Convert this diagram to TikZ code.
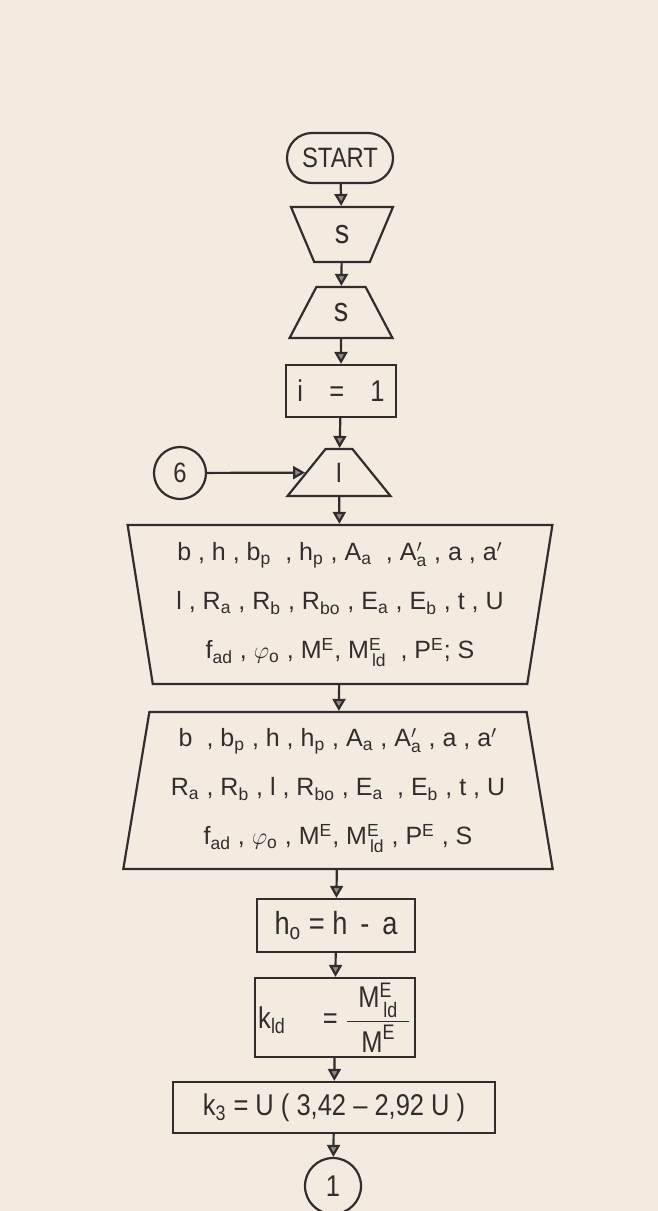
\documentclass[tikz,border=0pt]{standalone}
\usepackage{amsmath}
\usepackage{fontspec}
\setmainfont{Liberation Sans}[FakeStretch=0.85]
\newfontfamily\rowfont{Liberation Sans}
\usetikzlibrary{shapes.geometric, arrows.meta, positioning, calc}
\definecolor{paper}{RGB}{243,235,224}
\definecolor{ink}{RGB}{50,45,44}
\newcommand{\lo}[1]{$_{\text{#1}}$}
\newcommand{\hi}[1]{$^{\text{#1}}$}

\begin{document}
\begin{tikzpicture}[x=0.5pt, y=-0.5pt, color=ink,
    flow/.style={line width=1.1pt, -{Triangle[width=6.5pt, length=6pt, fill=ink!55]}},
    box/.style={draw, line width=1.1pt, rectangle, inner sep=0pt, font=\fontsize{14}{16}\selectfont},
    manual/.style={draw, line width=1.1pt, trapezium, trapezium stretches=true, inner sep=0pt, font=\fontsize{14}{16}\selectfont},
    conn/.style={draw, line width=1.1pt, circle, inner sep=0pt, font=\fontsize{14}{16}\selectfont},
    rows/.style={align=center, font=\rowfont\fontsize{12.5}{24.5}\selectfont}]
    % Paper
    \fill[paper] (0,0) rectangle (658,1211);
    \useasboundingbox (0,0) rectangle (658,1211);

    % Start and reading
    \node[box, rounded corners=12.5pt, minimum width=53pt, minimum height=25pt] (start) at (340,158) {START};
    \node[manual, shape border rotate=180, trapezium angle=72, minimum height=27.5pt, minimum width=51pt, font=\fontsize{17}{18}\selectfont] (s1) at (342,234.5) {s};
    \node[manual, trapezium angle=67, minimum height=25.5pt, minimum width=51.5pt, font=\fontsize{17}{18}\selectfont] (s2) at (341,312.5) {s};
    \node[box, minimum width=55pt, minimum height=26pt, font=\fontsize{15}{16}\selectfont] (init) at (341,391) {i \ \, = \ \, 1};
    \node[manual, trapezium angle=64, minimum height=23.5pt, minimum width=51.5pt] (readI) at (339,472.5) {I};
    \node[conn, minimum size=26pt] (c6) at (180,473) {6};

    % Data
    \node[manual, rows, shape border rotate=180, trapezium angle=80, minimum height=79.5pt, minimum width=213pt] (data1) at (340,604.5)
        {b , h , b\lo{p} \ , h\lo{p} , A\lo{a} \ , A$'_{\text{a}}$ , a , a$'$\\
         l , R\lo{a} , R\lo{b} , R\lo{bo} , E\lo{a} , E\lo{b} , t , U\\
         f\lo{ad} , $\varphi_{\text{o}}$ , M\hi{E}, M$^{\text{E}}_{\,\text{ld}}$ \ , P\hi{E}; S};
    \node[manual, rows, trapezium angle=79.5, minimum height=78.5pt, minimum width=215pt] (data2) at (338,790.5)
        {b \ , b\lo{p} , h , h\lo{p} , A\lo{a} , A$'_{\text{a}}$ , a , a$'$\\
         R\lo{a} , R\lo{b} , l , R\lo{bo} , E\lo{a} \ , E\lo{b} , t , U\\
         f\lo{ad} , $\varphi_{\text{o}}$ , M\hi{E}, M$^{\text{E}}_{\,\text{ld}}$ , P\hi{E} , S};

    % Computations
    \node[box, minimum width=79pt, minimum height=26.5pt, font=\fontsize{16}{18}\selectfont] (hzero) at (336,925.5) {h\lo{o} = h \,- \,a};
    \node[box, minimum width=80pt, minimum height=39.5pt, font=\fontsize{15}{18}\selectfont] (kld) at (335,1017.5)
        {k\lo{ld} \quad = $\dfrac{\makebox[31pt]{\text{M}$^{\text{E}}_{\,\text{ld}}$}}{\text{M}^{\text{E}}}$};
    \node[box, minimum width=161pt, minimum height=25.5pt, font=\fontsize{15}{16}\selectfont] (kthree) at (334,1107.5) {k\lo{3} = U ( 3,42 -- 2,92 U )};
    \node[conn, minimum size=28pt, font=\fontsize{15}{16}\selectfont] (c1) at (333,1186) {1};

    % Flow
    \draw[flow] (start) -- (s1);
    \draw[flow] (s1) -- (s2);
    \draw[flow] (s2) -- (init);
    \draw[flow] (init) -- (readI);
    \draw[flow] (c6) -- (readI);
    \draw[flow] (readI) -- (data1);
    \draw[flow] (data1) -- (data2);
    \draw[flow] (data2) -- (hzero);
    \draw[flow] (hzero) -- (kld);
    \draw[flow] (kld) -- (kthree);
    \draw[flow] (kthree) -- (c1);
\end{tikzpicture}
\end{document}
